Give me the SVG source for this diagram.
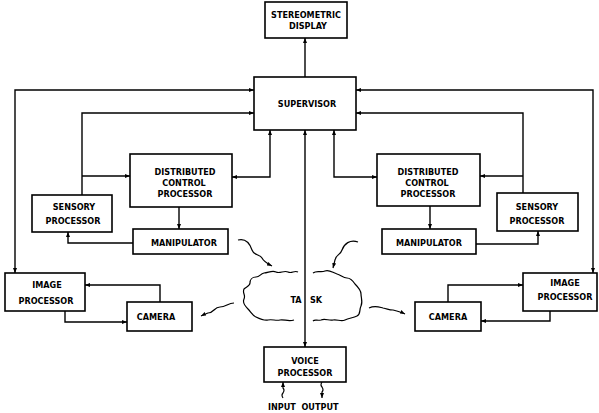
<svg xmlns="http://www.w3.org/2000/svg" width="599" height="413" viewBox="0 0 599 413">
<style>
.box{fill:#fff;stroke:#000;stroke-width:1.6}
.ln{fill:none;stroke:#000;stroke-width:1.4}
.wv{fill:none;stroke:#000;stroke-width:1.2}
text{font-family:"DejaVu Sans Condensed","DejaVu Sans",sans-serif;font-stretch:condensed;font-weight:bold;font-size:9px;text-anchor:middle;fill:#000}
</style>
<defs>
<marker id="a" viewBox="0 0 10 10" refX="10" refY="5" markerWidth="5" markerHeight="5" orient="auto-start-reverse" markerUnits="userSpaceOnUse">
<path d="M0,1 L10,5 L0,9 z" fill="#000"/>
</marker>
</defs>
<rect width="599" height="413" fill="#fff"/>
<g id="connectors">
<path class="ln" d="M305,77 V38" marker-end="url(#a)"/>
<path class="ln" d="M15,273 V90 H254" marker-start="url(#a)" marker-end="url(#a)"/>
<path class="ln" d="M82,195 V113 H254" marker-end="url(#a)"/>
<path class="ln" d="M82,176 H130" marker-end="url(#a)"/>
<path class="ln" d="M232,177 H270 V130" marker-start="url(#a)" marker-end="url(#a)"/>
<path class="ln" d="M179,207 V229" marker-end="url(#a)"/>
<path class="ln" d="M133,243 H68 V232" marker-end="url(#a)"/>
<path class="ln" d="M160,302 V285 H85" marker-end="url(#a)"/>
<path class="ln" d="M65,311 V322 H127" marker-end="url(#a)"/>
<path class="ln" d="M593,273 V90 H356" marker-start="url(#a)" marker-end="url(#a)"/>
<path class="ln" d="M523,193 V113 H356" marker-end="url(#a)"/>
<path class="ln" d="M523,176 H480" marker-end="url(#a)"/>
<path class="ln" d="M377,177 H334 V130" marker-start="url(#a)" marker-end="url(#a)"/>
<path class="ln" d="M430,206 V229" marker-end="url(#a)"/>
<path class="ln" d="M476,244 H538 V231" marker-end="url(#a)"/>
<path class="ln" d="M448,302 V285 H523" marker-end="url(#a)"/>
<path class="ln" d="M550,311 V321 H481" marker-end="url(#a)"/>
<path class="ln" d="M305,347 V130" marker-start="url(#a)" marker-end="url(#a)"/>
<path class="wv" d="M283,398 q-2,-3 0,-5 q2,-3 0,-5 V382" marker-end="url(#a)"/>
<path class="wv" d="M322,382 q-2,3 0,5 q2,3 0,5 V398" marker-end="url(#a)"/>
<path class="wv" d="M238,240 c8,-2 12,4 14,10 c2,6 8,4 10,8 c2,4 6,6 10,8" marker-end="url(#a)"/>
<path class="wv" d="M358,242 c-8,-3 -14,2 -16,8 c-2,6 -6,4 -7,10 l-2,8" marker-end="url(#a)"/>
<path class="wv" d="M234,303 c-6,0 -8,4 -14,4 c-6,0 -6,6 -12,6 c-3,1 -5,2 -7,3" marker-end="url(#a)"/>
<path class="wv" d="M369,308 c6,-3 10,-1 14,0 c5,1 6,2 10,2 c4,1 8,2 12,4" marker-end="url(#a)"/>
</g>
<g id="task">
<path class="wv" d="M298,272 c-4,-2 -6,2 -10,0 c-4,-2 -8,2 -12,0 c-4,-2 -8,1 -12,1 c-4,1 -4,4 -8,4 c-4,0 -6,3 -6,6 c0,3 -4,4 -6,6 c-2,4 2,6 0,10 c-2,4 2,8 4,10 c3,3 4,6 8,8 c4,2 8,4 12,3 c4,-1 8,1 12,0 c4,-1 8,2 14,0"/>
<path class="wv" d="M313,273 c4,-3 8,0 12,-2 c4,-2 8,2 12,3 c4,1 6,4 10,4 c4,0 6,3 8,6 c3,3 6,6 6,10 c0,4 2,8 0,12 c-2,4 0,8 -4,10 c-4,2 -8,2 -12,4 c-4,2 -8,-1 -12,0 c-4,1 -8,-2 -12,0 c-4,1 -6,-1 -8,1"/>
<text x="296" y="303">TA</text>
<text x="316" y="303">SK</text>
</g>
<g id="stereometric-display"><rect class="box" x="265" y="2" width="82" height="36"/><text x="306" y="18">STEREOMETRIC</text><text x="308" y="29">DISPLAY</text></g>
<g id="supervisor"><rect class="box" x="254" y="77" width="102" height="53"/><text x="307" y="107">SUPERVISOR</text></g>
<g id="dcp-left"><rect class="box" x="130" y="154" width="102" height="53"/><text x="185" y="175">DISTRIBUTED</text><text x="184" y="186">CONTROL</text><text x="185" y="197">PROCESSOR</text></g>
<g id="sensory-left"><rect class="box" x="32" y="195" width="80" height="37"/><text x="74" y="210">SENSORY</text><text x="73" y="224">PROCESSOR</text></g>
<g id="manipulator-left"><rect class="box" x="133" y="229" width="95" height="25"/><text x="184" y="246">MANIPULATOR</text></g>
<g id="image-left"><rect class="box" x="5" y="273" width="80" height="38"/><text x="47" y="288">IMAGE</text><text x="46" y="304">PROCESSOR</text></g>
<g id="camera-left"><rect class="box" x="127" y="302" width="65" height="29"/><text x="156" y="320">CAMERA</text></g>
<g id="dcp-right"><rect class="box" x="377" y="154" width="103" height="52"/><text x="428" y="175">DISTRIBUTED</text><text x="427" y="186">CONTROL</text><text x="428" y="197">PROCESSOR</text></g>
<g id="sensory-right"><rect class="box" x="497" y="193" width="81" height="38"/><text x="537" y="210">SENSORY</text><text x="537" y="224">PROCESSOR</text></g>
<g id="manipulator-right"><rect class="box" x="382" y="229" width="94" height="25"/><text x="429" y="246">MANIPULATOR</text></g>
<g id="image-right"><rect class="box" x="523" y="273" width="74" height="38"/><text x="565" y="286">IMAGE</text><text x="565" y="300">PROCESSOR</text></g>
<g id="camera-right"><rect class="box" x="415" y="302" width="66" height="29"/><text x="448" y="320">CAMERA</text></g>
<g id="voice-processor"><rect class="box" x="264" y="347" width="82" height="35"/><text x="305" y="364">VOICE</text><text x="305" y="376">PROCESSOR</text></g>
<text x="282" y="410">INPUT</text>
<text x="320" y="410">OUTPUT</text>
</svg>
